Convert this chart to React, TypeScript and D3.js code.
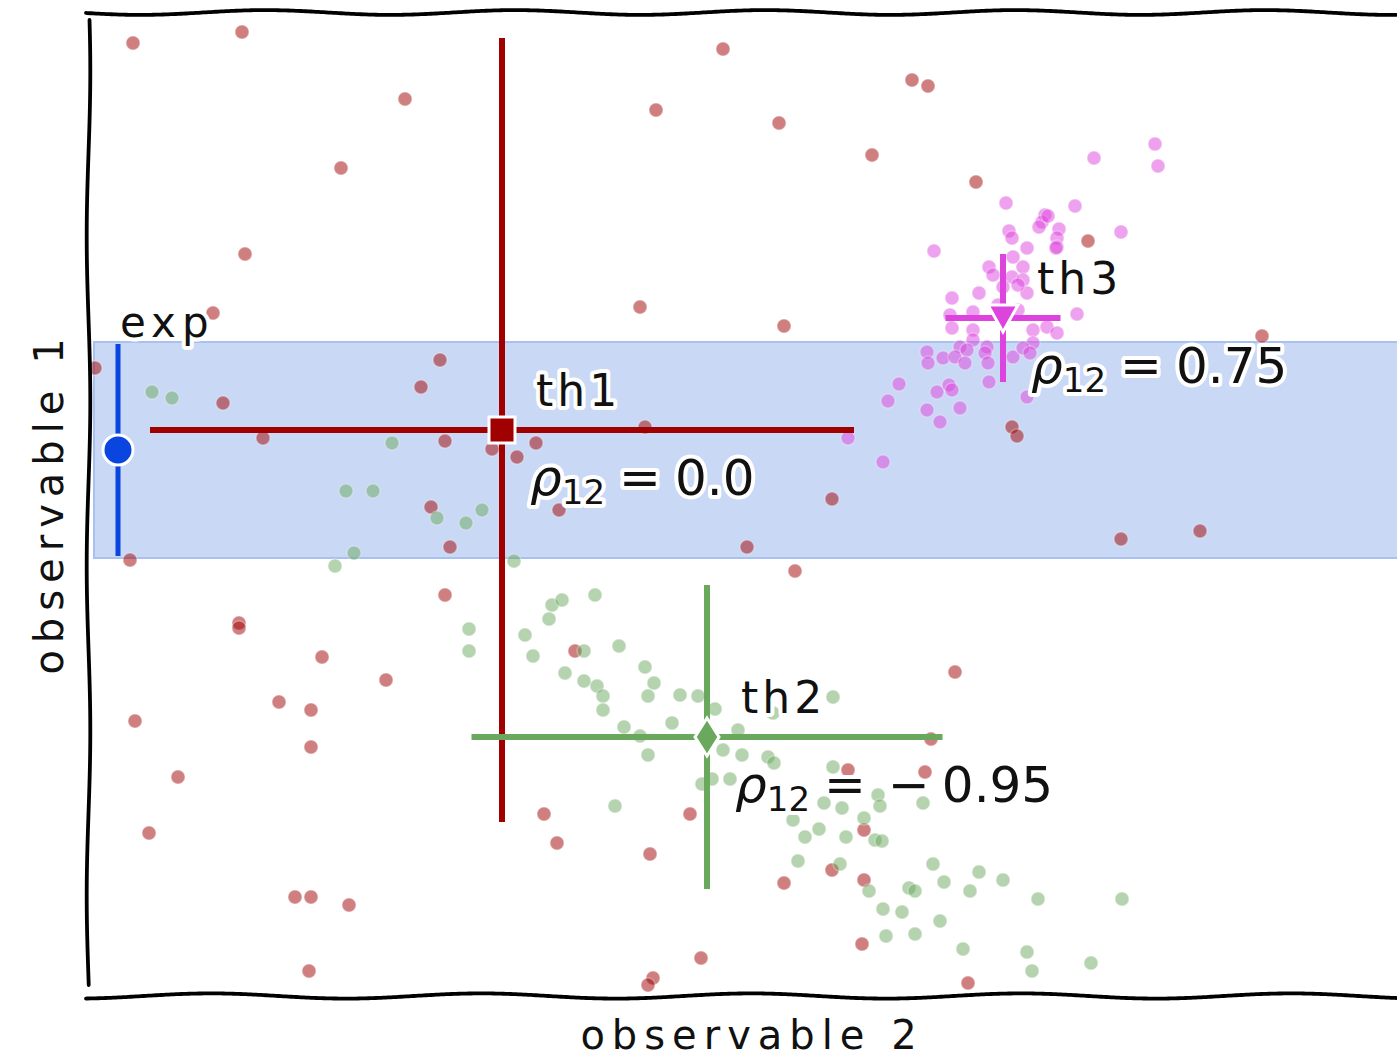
import React from 'react';
import * as d3 from 'd3';

// ---- data (units: observable 2 along x, observable 1 along y) ----
const th1Samples: [number, number][] = [
  [0.45, 9.52], [1.54, 9.63], [3.17, 8.96], [2.53, 8.27], [1.57, 7.41], [1.25, 6.82],
  [6.35, 9.46], [5.68, 8.85], [6.91, 8.72], [8.24, 9.15], [8.40, 9.09], [7.84, 8.40],
  [8.88, 8.13], [5.52, 6.88], [6.96, 6.69], [10.00, 7.54], [11.74, 6.59], [9.24, 5.68],
  [9.29, 5.59], [0.07, 6.27], [1.35, 5.92], [3.52, 6.35], [3.33, 6.08], [1.75, 5.57],
  [3.57, 5.54], [4.04, 5.46], [4.29, 5.38], [4.48, 5.52], [3.43, 4.88], [3.62, 4.48],
  [4.71, 4.85], [0.42, 4.35], [3.57, 4.00], [1.51, 3.72], [1.51, 3.67], [2.34, 3.38],
  [2.98, 3.15], [4.87, 3.44], [5.57, 5.68], [7.44, 4.96], [6.59, 4.48], [7.07, 4.24],
  [8.67, 3.23], [10.33, 4.56], [11.12, 4.64], [1.91, 2.93], [2.23, 2.85], [0.47, 2.74],
  [2.23, 2.48], [0.90, 2.18], [0.61, 1.62], [2.07, 0.98], [2.23, 0.98], [2.61, 0.90],
  [2.21, 0.24], [4.56, 1.81], [6.02, 1.81], [4.69, 1.52], [5.62, 1.41], [8.43, 2.56],
  [8.37, 2.23], [7.60, 2.25], [7.76, 1.65], [7.44, 1.25], [7.76, 1.15], [6.96, 1.12],
  [7.74, 0.51], [6.13, 0.37], [5.65, 0.17], [5.60, 0.10], [8.80, 0.12],
];

const th2Samples: [number, number][] = [
  [0.64, 6.03], [0.84, 5.97], [3.04, 5.52], [2.58, 5.04], [2.85, 5.04], [3.49, 4.77],
  [3.78, 4.72], [3.94, 4.85], [2.66, 4.42], [2.47, 4.29], [4.26, 4.34], [3.81, 3.66],
  [3.81, 3.44], [4.37, 3.60], [4.45, 3.39], [4.64, 3.90], [4.74, 3.95], [4.61, 3.76],
  [5.07, 4.00], [4.96, 3.44], [5.31, 3.49], [4.77, 3.22], [4.96, 3.14], [5.09, 3.09],
  [5.15, 2.99], [5.15, 2.85], [5.57, 3.28], [5.66, 3.12], [5.60, 2.99], [5.92, 3.00],
  [6.10, 2.99], [6.27, 2.86], [5.36, 2.68], [5.84, 2.72], [5.52, 2.59], [6.50, 2.65],
  [5.60, 2.40], [6.35, 2.45], [6.54, 2.40], [6.80, 2.38], [6.86, 2.32], [6.42, 2.16],
  [6.24, 2.16], [6.14, 2.11], [5.27, 1.89], [7.05, 1.75], [7.45, 2.28], [7.90, 2.00],
  [7.92, 1.89], [7.36, 1.92], [7.54, 1.87], [8.35, 1.92], [7.76, 1.77], [7.17, 1.58],
  [7.31, 1.66], [7.58, 1.58], [7.87, 1.55], [7.94, 1.54], [7.10, 1.34], [7.52, 1.31],
  [8.45, 1.31], [7.81, 1.04], [8.56, 1.13], [8.91, 1.23], [9.15, 1.15], [8.21, 1.07],
  [8.27, 1.04], [8.82, 1.04], [7.95, 0.86], [8.14, 0.83], [7.98, 0.59], [8.27, 0.61],
  [8.52, 0.74], [8.75, 0.46], [9.50, 0.96], [10.34, 0.96], [9.39, 0.43], [9.44, 0.24],
  [10.03, 0.32], [7.45, 2.98], [6.85, 2.82],
];

const th3Samples: [number, number][] = [
  [10.67, 8.51], [10.70, 8.29], [10.06, 8.37], [9.18, 7.92], [9.87, 7.89], [9.57, 7.80],
  [9.54, 7.73], [9.51, 7.68], [9.71, 7.66], [9.69, 7.57], [9.21, 7.64], [9.24, 7.57],
  [10.33, 7.63], [8.46, 7.44], [9.39, 7.47], [9.69, 7.48], [9.01, 7.28], [9.35, 7.28],
  [9.25, 7.38], [9.24, 7.18], [9.35, 7.15], [9.15, 7.08], [9.39, 7.02], [8.64, 6.97],
  [8.91, 7.02], [9.89, 6.81], [8.62, 6.80], [8.85, 6.83], [8.64, 6.67], [8.85, 6.65],
  [9.45, 6.65], [9.59, 6.68], [9.69, 6.62], [8.85, 6.55], [8.99, 6.48], [8.72, 6.48],
  [9.45, 6.52], [8.39, 6.43], [8.40, 6.32], [8.55, 6.37], [8.67, 6.38], [8.79, 6.45],
  [8.77, 6.32], [8.97, 6.42], [9.00, 6.32], [9.25, 6.38], [9.35, 6.47], [9.42, 6.42],
  [9.01, 6.13], [8.11, 6.11], [8.00, 5.94], [8.49, 6.03], [8.61, 6.10], [8.64, 6.05],
  [8.39, 5.85], [8.52, 5.73], [8.72, 5.87], [9.39, 5.98], [7.60, 5.57], [7.95, 5.33],
  [9.60, 7.79], [9.68, 7.47], [9.30, 7.10], [9.10, 6.90], [9.30, 6.85], [9.05, 7.20],
];

const theoryNames = ['th1', 'th2', 'th3'];
const theoryX = [4.14, 6.19, 9.15];
const theoryY = [5.65, 2.58, 6.77];
const theoryXErr = [3.52, 2.355, 0.575];
const theoryYErr = [3.92, 1.52, 0.64];
const theoryRhoSign = ['', '\u2212', ''];
const theoryRho = ['0.0', '0.95', '0.75'];

const expName = 'exp';
const expX = 0.3;
const expY = 5.45;
const expYErr = 1.08;

const xLabel = 'observable 2';
const yLabel = 'observable 1';

// ---- layout ----
const W = 1397;
const H = 1058;
const x = d3.scaleLinear().domain([0, 13.09]).range([88, 1397]);
const y = d3.scaleLinear().domain([0, 9.81]).range([995, 14]);

const colors = ['#a00000', '#6aa85e', '#dd44dd'];
const expColor = '#0a45e0';
const FONT = '"DejaVu Sans", sans-serif';

function wavyH(x0: number, x1: number, y0: number, amp: number, period: number, phase: number) {
  const pts: [number, number][] = d3.range(x0, x1 + 1, 5).map((px) => [
    px,
    y0 + amp * Math.sin((2 * Math.PI * (px - x0)) / period + phase),
  ]);
  return d3.line().curve(d3.curveBasis)(pts) as string;
}
function wavyV(y0: number, y1: number, x0: number, amp: number, period: number, phase: number) {
  const pts: [number, number][] = d3.range(y0, y1 + 1, 5).map((py) => [
    x0 + amp * Math.sin((2 * Math.PI * (py - y0)) / period + phase),
    py,
  ]);
  return d3.line().curve(d3.curveBasis)(pts) as string;
}

const halo = {
  stroke: '#fff',
  strokeWidth: 8,
  paintOrder: 'stroke' as const,
  strokeLinejoin: 'round' as const,
};

function Rho({ px, py, sign, value }: { px: number; py: number; sign: string; value: string }) {
  return (
    <text x={px} y={py} fontSize={50} fontFamily={FONT} fill="#111" style={halo}>
      <tspan fontStyle="italic">ρ</tspan>
      <tspan fontSize={34} dy={9}>12</tspan>
      <tspan dy={-9} dx={14}>=</tspan>
      {sign ? <tspan dx={22}>{sign}</tspan> : null}
      <tspan dx={sign ? 12 : 14}>{value}</tspan>
    </text>
  );
}

function Marker({ i, cx, cy }: { i: number; cx: number; cy: number }) {
  const c = colors[i];
  if (i === 0) return <rect x={cx - 13} y={cy - 13} width={26} height={26} fill={c} stroke="#fff" strokeWidth={3} />;
  if (i === 1)
    return <path d={`M${cx},${cy - 19}L${cx + 12},${cy}L${cx},${cy + 19}L${cx - 12},${cy}Z`} fill={c} stroke="#fff" strokeWidth={3} />;
  return <path d={`M${cx - 15},${cy - 13}L${cx + 15},${cy - 13}L${cx},${cy + 14}Z`} fill={c} stroke="#fff" strokeWidth={3} />;
}

export default function App() {
  const samples = [th1Samples, th2Samples, th3Samples];
  const bandTop = y(expY + expYErr);
  const bandBot = y(expY - expYErr);
  return (
    <svg width={W} height={H} style={{ position: 'absolute', left: 0, top: 0, background: '#fff' }}>
      <rect x={0} y={0} width={W} height={H} fill="#fff" />
      {/* experimental band */}
      <rect x={x(0.06)} y={bandTop} width={W - x(0.06) + 10} height={bandBot - bandTop} fill="#c9d8f5" stroke="#a9c1f1" strokeWidth={2} />

      {/* samples */}
      {samples.map((s, i) => (
        <g key={i}>
          {s.map(([a, b], j) => (
            <circle key={j} cx={x(a)} cy={y(b)} r={7} fill={colors[i]} fillOpacity={0.5} stroke="#fff" strokeOpacity={0.3} strokeWidth={1.5} />
          ))}
        </g>
      ))}

      {/* theory error bars */}
      {theoryNames.map((n, i) => {
        const cx = x(theoryX[i]);
        const cy = y(theoryY[i]);
        return (
          <g key={n}>
            <line x1={x(theoryX[i] - theoryXErr[i])} x2={x(theoryX[i] + theoryXErr[i])} y1={cy} y2={cy} stroke={colors[i]} strokeWidth={6} />
            <line x1={cx} x2={cx} y1={y(theoryY[i] + theoryYErr[i])} y2={y(theoryY[i] - theoryYErr[i])} stroke={colors[i]} strokeWidth={6} />
            <Marker i={i} cx={cx} cy={cy} />
          </g>
        );
      })}

      {/* experiment */}
      <line x1={x(expX)} x2={x(expX)} y1={bandTop + 2} y2={bandBot - 2} stroke={expColor} strokeWidth={5} />
      <circle cx={x(expX)} cy={y(expY)} r={15} fill={expColor} stroke="#fff" strokeWidth={3} />

      {/* labels */}
      <text x={x(expX) + 2} y={bandTop - 5} fontSize={42} fontFamily={FONT} letterSpacing={6} fill="#111" style={halo}>
        {expName}
      </text>
      {theoryNames.map((n, i) => {
        const cx = x(theoryX[i]);
        const cy = y(theoryY[i]);
        return (
          <g key={n}>
            <text x={cx + 34} y={cy - 24} fontSize={44} fontFamily={FONT} letterSpacing={4} fill="#111" style={halo}>
              {n}
            </text>
            <Rho px={cx + 28} py={cy + 65} sign={theoryRhoSign[i]} value={theoryRho[i]} />
          </g>
        );
      })}

      {/* xkcd-like spines */}
      <path d={wavyH(86, 1400, 12.5, 2.4, 250, 0.2)} fill="none" stroke="#000" strokeWidth={3.8} strokeLinecap="round" />
      <path d={wavyH(86, 1400, 996, 2.6, 270, 1.8)} fill="none" stroke="#000" strokeWidth={3.8} strokeLinecap="round" />
      <path d={wavyV(20, 988, 88.5, 1.8, 330, 0.6)} fill="none" stroke="#000" strokeWidth={3.8} strokeLinecap="round" />

      {/* axis labels */}
      <text x={752} y={1049} textAnchor="middle" fontSize={40} fontFamily={FONT} letterSpacing={7} fill="#111">
        {xLabel}
      </text>
      <text transform="translate(63,503) rotate(-90)" textAnchor="middle" fontSize={40} fontFamily={FONT} letterSpacing={7} fill="#111">
        {yLabel}
      </text>
    </svg>
  );
}
